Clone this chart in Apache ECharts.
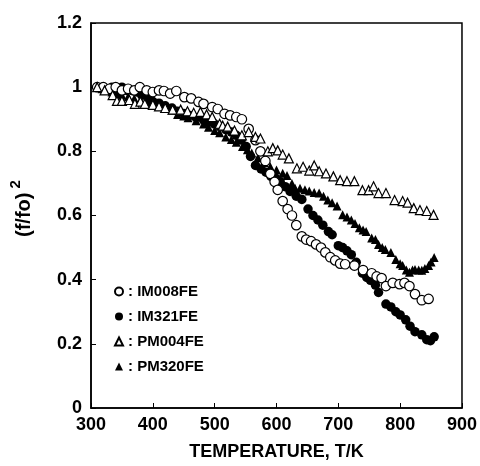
<!DOCTYPE html>
<html>
<head>
<meta charset="utf-8">
<script src="https://cdn.jsdelivr.net/npm/echarts@6/dist/echarts.min.js"></script>
<style>
  html, body { margin: 0; padding: 0; background: #fff; }
  #chart { width: 480px; height: 466px; }
</style>
</head>
<body>
<div id="chart"></div>
<script>
// 測定データ (T [K], (f/fo)^2)
var IM008FE = [
  [310, 1.0], [320, 1.0], [330, 0.995], [340, 1.0], [350, 0.99], [360, 0.995], [370, 0.99], [379, 1.0],
  [390, 0.99], [400, 0.985], [410, 0.99], [418, 0.988], [428, 0.98], [438, 0.988], [451, 0.969], [462, 0.965],
  [474, 0.954], [482, 0.948], [496, 0.938], [505, 0.932], [516, 0.917], [525, 0.912], [535, 0.907], [544, 0.9],
  [555, 0.87], [566, 0.835], [574, 0.8], [582, 0.77], [590, 0.73], [597, 0.705], [602, 0.68], [610, 0.645],
  [618, 0.62], [625, 0.6], [632, 0.57], [641, 0.535], [648, 0.525], [656, 0.52], [664, 0.51], [672, 0.5],
  [679, 0.485], [687, 0.47], [695, 0.46], [703, 0.45], [711, 0.448], [726, 0.444], [740, 0.43], [754, 0.42],
  [762, 0.41], [770, 0.405], [777, 0.38], [788, 0.39], [799, 0.386], [807, 0.39], [815, 0.38], [824, 0.355],
  [835, 0.336], [846, 0.34]
];
var IM321FE = [
  [310, 1.0], [318, 1.0], [326, 0.995], [334, 1.0], [342, 0.995], [350, 1.0], [358, 0.99], [366, 0.99],
  [374, 0.985], [382, 0.975], [392, 0.965], [400, 0.955], [410, 0.95], [420, 0.942], [431, 0.935], [440, 0.925],
  [450, 0.918], [460, 0.912], [470, 0.905], [482, 0.898], [490, 0.89], [500, 0.885], [508, 0.878], [518, 0.868],
  [527, 0.86], [535, 0.85], [543, 0.835], [551, 0.815], [558, 0.784], [566, 0.756], [575, 0.745], [583, 0.735],
  [591, 0.722], [599, 0.715], [606, 0.705], [614, 0.69], [622, 0.675], [632, 0.66], [641, 0.65], [651, 0.62],
  [659, 0.6], [667, 0.586], [675, 0.57], [684, 0.55], [690, 0.54], [700, 0.506], [707, 0.5], [714, 0.49],
  [721, 0.478], [729, 0.454], [739, 0.42], [746, 0.407], [752, 0.398], [760, 0.383], [765, 0.36], [777, 0.324],
  [785, 0.315], [793, 0.3], [800, 0.29], [809, 0.275], [816, 0.255], [824, 0.238], [835, 0.228], [843, 0.213],
  [849, 0.21], [855, 0.222]
];
var PM004FE = [
  [310, 1.0], [322, 0.99], [335, 0.975], [342, 0.957], [350, 0.957], [362, 0.96], [371, 0.948], [380, 0.955],
  [387, 0.948], [400, 0.945], [410, 0.94], [420, 0.935], [432, 0.93], [445, 0.93], [456, 0.925], [466, 0.92],
  [477, 0.923], [487, 0.915], [496, 0.907], [508, 0.886], [513, 0.88], [521, 0.877], [532, 0.865], [544, 0.85],
  [555, 0.86], [566, 0.845], [574, 0.84], [586, 0.8], [594, 0.81], [602, 0.803], [610, 0.79], [620, 0.778],
  [633, 0.747], [643, 0.752], [653, 0.74], [661, 0.756], [669, 0.738], [680, 0.731], [692, 0.722], [703, 0.71],
  [714, 0.707], [726, 0.707], [739, 0.679], [749, 0.679], [757, 0.691], [765, 0.67], [777, 0.67], [791, 0.648],
  [804, 0.645], [812, 0.64], [822, 0.623], [832, 0.617], [843, 0.614], [854, 0.602]
];
var PM320FE = [
  [310, 1.0], [318, 0.995], [326, 0.99], [334, 0.985], [342, 0.98], [350, 0.975], [360, 0.97], [370, 0.965],
  [380, 0.96], [390, 0.955], [400, 0.948], [410, 0.942], [420, 0.935], [431, 0.928], [440, 0.915], [450, 0.91],
  [457, 0.905], [470, 0.895], [482, 0.885], [490, 0.875], [500, 0.865], [508, 0.858], [518, 0.845], [527, 0.837],
  [535, 0.828], [545, 0.815], [553, 0.805], [560, 0.795], [570, 0.78], [580, 0.765], [590, 0.752], [600, 0.742],
  [610, 0.732], [617, 0.725], [625, 0.7], [630, 0.685], [638, 0.685], [646, 0.68], [653, 0.676], [661, 0.672],
  [669, 0.67], [676, 0.66], [683, 0.648], [690, 0.64], [698, 0.63], [707, 0.602], [714, 0.595], [721, 0.586],
  [727, 0.575], [734, 0.562], [740, 0.555], [745, 0.55], [754, 0.53], [760, 0.525], [765, 0.51], [771, 0.5],
  [776, 0.494], [785, 0.485], [793, 0.463], [800, 0.45], [804, 0.444], [810, 0.43], [815, 0.423], [820, 0.43],
  [824, 0.432], [830, 0.43], [835, 0.429], [840, 0.435], [846, 0.444], [850, 0.455], [855, 0.469]
];
var seriesNames = ['IM008FE', 'IM321FE', 'PM004FE', 'PM320FE'];

var font = 'Liberation Sans, Arial, sans-serif';

function scatter(name, data, symbol, filled, z) {
  return {
    name: name,
    type: 'scatter',
    data: data,
    symbol: symbol,
    symbolSize: symbol === 'circle' ? 9.5 : 9,
    z: z,
    itemStyle: filled
      ? { color: '#000', opacity: 1 }
      : { color: '#fff', borderColor: '#000', borderWidth: 1.2, opacity: 1 }
  };
}

var chart = echarts.init(document.getElementById('chart'));
chart.setOption({
  backgroundColor: '#fff',
  animation: false,
  grid: {
    left: 76, right: 18, top: 23, bottom: 54,
    show: true, borderColor: '#000', borderWidth: 1.5
  },
  legend: {
    data: seriesNames,
    orient: 'vertical',
    left: 109,
    top: 279,
    itemWidth: 8,
    itemHeight: 8,
    itemGap: 10,
    formatter: function (name) { return ': ' + name; },
    textStyle: { fontFamily: font, fontWeight: 'bold', fontSize: 15, color: '#000' }
  },
  xAxis: {
    type: 'value',
    min: 300, max: 900, interval: 100,
    name: 'TEMPERATURE, T/K',
    nameLocation: 'middle',
    nameGap: 35,
    nameTextStyle: { fontFamily: font, fontWeight: 'bold', fontSize: 18, color: '#000' },
    axisLine: { lineStyle: { color: '#000', width: 1.5 } },
    axisTick: { inside: true, length: 5, lineStyle: { color: '#000' } },
    axisLabel: { margin: 8, fontFamily: font, fontWeight: 'bold', fontSize: 18, color: '#000' },
    splitLine: { show: false }
  },
  yAxis: {
    type: 'value',
    min: 0, max: 1.2, interval: 0.2,
    name: '{a|(f/fo)}{b| 2}',
    nameLocation: 'middle',
    nameRotate: 90,
    nameGap: 57,
    nameTextStyle: {
      padding: [0, 0, 0, 14],
      rich: {
        a: { fontFamily: font, fontWeight: 'bold', fontSize: 20, color: '#000', lineHeight: 26, verticalAlign: 'bottom' },
        b: { fontFamily: font, fontWeight: 'bold', fontSize: 15, color: '#000', lineHeight: 26, verticalAlign: 'top' }
      }
    },
    axisLine: { lineStyle: { color: '#000', width: 1.5 } },
    axisTick: { inside: true, length: 5, lineStyle: { color: '#000' } },
    axisLabel: { margin: 9, fontFamily: font, fontWeight: 'bold', fontSize: 18, color: '#000' },
    splitLine: { show: false }
  },
  series: [
    scatter('IM008FE', IM008FE, 'circle', false, 4),
    scatter('IM321FE', IM321FE, 'circle', true, 3),
    scatter('PM004FE', PM004FE, 'triangle', false, 5),
    scatter('PM320FE', PM320FE, 'triangle', true, 2)
  ]
});
</script>
</body>
</html>
